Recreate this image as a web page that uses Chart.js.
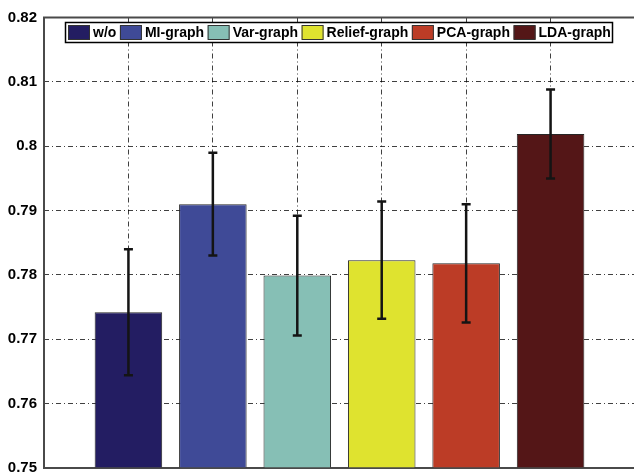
<!DOCTYPE html>
<html>
<head>
<meta charset="utf-8">
<script src="https://cdn.jsdelivr.net/npm/chart.js@4/dist/chart.umd.min.js"></script>
<style>
  html, body { margin: 0; padding: 0; background: #fff; overflow: hidden; }
  #wrap { width: 640px; height: 474px; }
</style>
</head>
<body>
<div id="wrap"><canvas id="c" width="640" height="474"></canvas></div>
<script>
// Classification accuracy per feature-graph variant, with error half-widths
const categories = ['w/o', 'MI-graph', 'Var-graph', 'Relief-graph', 'PCA-graph', 'LDA-graph'];
const accuracy   = [0.7742, 0.7910, 0.7799, 0.7823, 0.7818, 0.8019];
const errors     = [0.0098, 0.0080, 0.0093, 0.0091, 0.0092, 0.0069];
const colors     = ['#231d62', '#3f4a97', '#86bfb5', '#dfe32f', '#bc3c26', '#541617'];
const yTicks     = [0.75, 0.76, 0.77, 0.78, 0.79, 0.80, 0.81, 0.82];

// One empty slot on each side of the six bars
const labels = [''].concat(categories, ['']);
const values = [null].concat(accuracy, [null]);
const errs   = [null].concat(errors, [null]);
const fills  = ['#fff'].concat(colors, ['#fff']);

const FONT = "'Liberation Sans', Arial, sans-serif";

// Plot frame (left, top, bottom), drawn under the bars
const framePlugin = {
  id: 'frame',
  beforeDatasetsDraw(chart) {
    const { ctx, chartArea: a } = chart;
    ctx.save();
    ctx.strokeStyle = '#4a4a4a';
    ctx.lineWidth = 2;
    ctx.beginPath();
    ctx.moveTo(a.right + 10, a.top);
    ctx.lineTo(a.left, a.top);
    ctx.lineTo(a.left, a.bottom);
    ctx.lineTo(a.right + 10, a.bottom);
    ctx.stroke();
    ctx.restore();
  }
};

// Error bars computed from the data through the value scale
const errorBarPlugin = {
  id: 'errorBars',
  afterDatasetsDraw(chart) {
    const { ctx } = chart;
    const meta = chart.getDatasetMeta(0);
    const y = chart.scales.y;
    ctx.save();
    ctx.strokeStyle = '#141414';
    ctx.lineWidth = 2.5;
    meta.data.forEach((bar, i) => {
      if (values[i] == null) return;
      const top = y.getPixelForValue(values[i] + errs[i]);
      const bot = y.getPixelForValue(values[i] - errs[i]);
      const x = bar.x;
      ctx.beginPath();
      ctx.moveTo(x, top); ctx.lineTo(x, bot);
      ctx.moveTo(x - 4.5, top); ctx.lineTo(x + 4.5, top);
      ctx.moveTo(x - 4.5, bot); ctx.lineTo(x + 4.5, bot);
      ctx.stroke();
    });
    ctx.restore();
  }
};

// Boxed horizontal legend inside the plot
const boxLegendPlugin = {
  id: 'boxLegend',
  afterDraw(chart) {
    const { ctx } = chart;
    const bx = 65.5, by = 22.5, bw = 547, bh = 20;
    ctx.save();
    ctx.fillStyle = '#fff';
    ctx.fillRect(bx, by, bw, bh);
    ctx.strokeStyle = '#000';
    ctx.lineWidth = 1.5;
    ctx.strokeRect(bx, by, bw, bh);
    ctx.font = 'bold 14px ' + FONT;
    ctx.textBaseline = 'middle';
    let x = 68;
    categories.forEach((name, i) => {
      ctx.fillStyle = colors[i];
      ctx.fillRect(x, 25.5, 22, 14);
      ctx.strokeStyle = '#333';
      ctx.lineWidth = 1;
      ctx.strokeRect(x + 0.5, 25.5, 21, 14);
      ctx.fillStyle = '#000';
      ctx.fillText(name, x + 25, 33);
      x += 25 + ctx.measureText(name).width + 3.6;
    });
    ctx.restore();
  }
};

new Chart(document.getElementById('c'), {
  type: 'bar',
  data: {
    labels: labels,
    datasets: [{
      data: values,
      backgroundColor: fills,
      borderColor: '#262626',
      borderWidth: 1,
      base: yTicks[0],
      categoryPercentage: 1,
      barPercentage: 0.8
    }]
  },
  options: {
    responsive: false,
    devicePixelRatio: 1,
    animation: false,
    layout: { padding: { top: 17.5, right: 5, bottom: 6, left: 0 } },
    plugins: { legend: { display: false }, tooltip: { enabled: false } },
    scales: {
      x: {
        type: 'category',
        offset: false,
        afterFit(scale) {
          scale.height = 0;
          scale.paddingLeft = 0; scale.paddingRight = 0;
          scale.paddingTop = 0; scale.paddingBottom = 0;
        },
        ticks: { display: false },
        grid: { offset: false, drawTicks: false, color: 'rgba(0,0,0,0.75)', lineWidth: 1 },
        border: { display: false, dash: [5, 3, 1, 3] }
      },
      y: {
        min: yTicks[0],
        max: yTicks[yTicks.length - 1],
        afterBuildTicks(scale) { scale.ticks = yTicks.map(v => ({ value: v })); },
        afterFit(scale) {
          scale.width = 44;
          scale.paddingTop = 0; scale.paddingBottom = 0;
        },
        ticks: {
          padding: 7,
          color: '#000',
          font: { family: FONT, size: 15, weight: 'bold' },
          callback: v => String(parseFloat(Number(v).toFixed(2)))
        },
        grid: { drawTicks: false, color: 'rgba(0,0,0,0.75)', lineWidth: 1 },
        border: { display: false, dash: [5, 3, 1, 3] }
      }
    }
  },
  plugins: [framePlugin, errorBarPlugin, boxLegendPlugin]
});
</script>
</body>
</html>
